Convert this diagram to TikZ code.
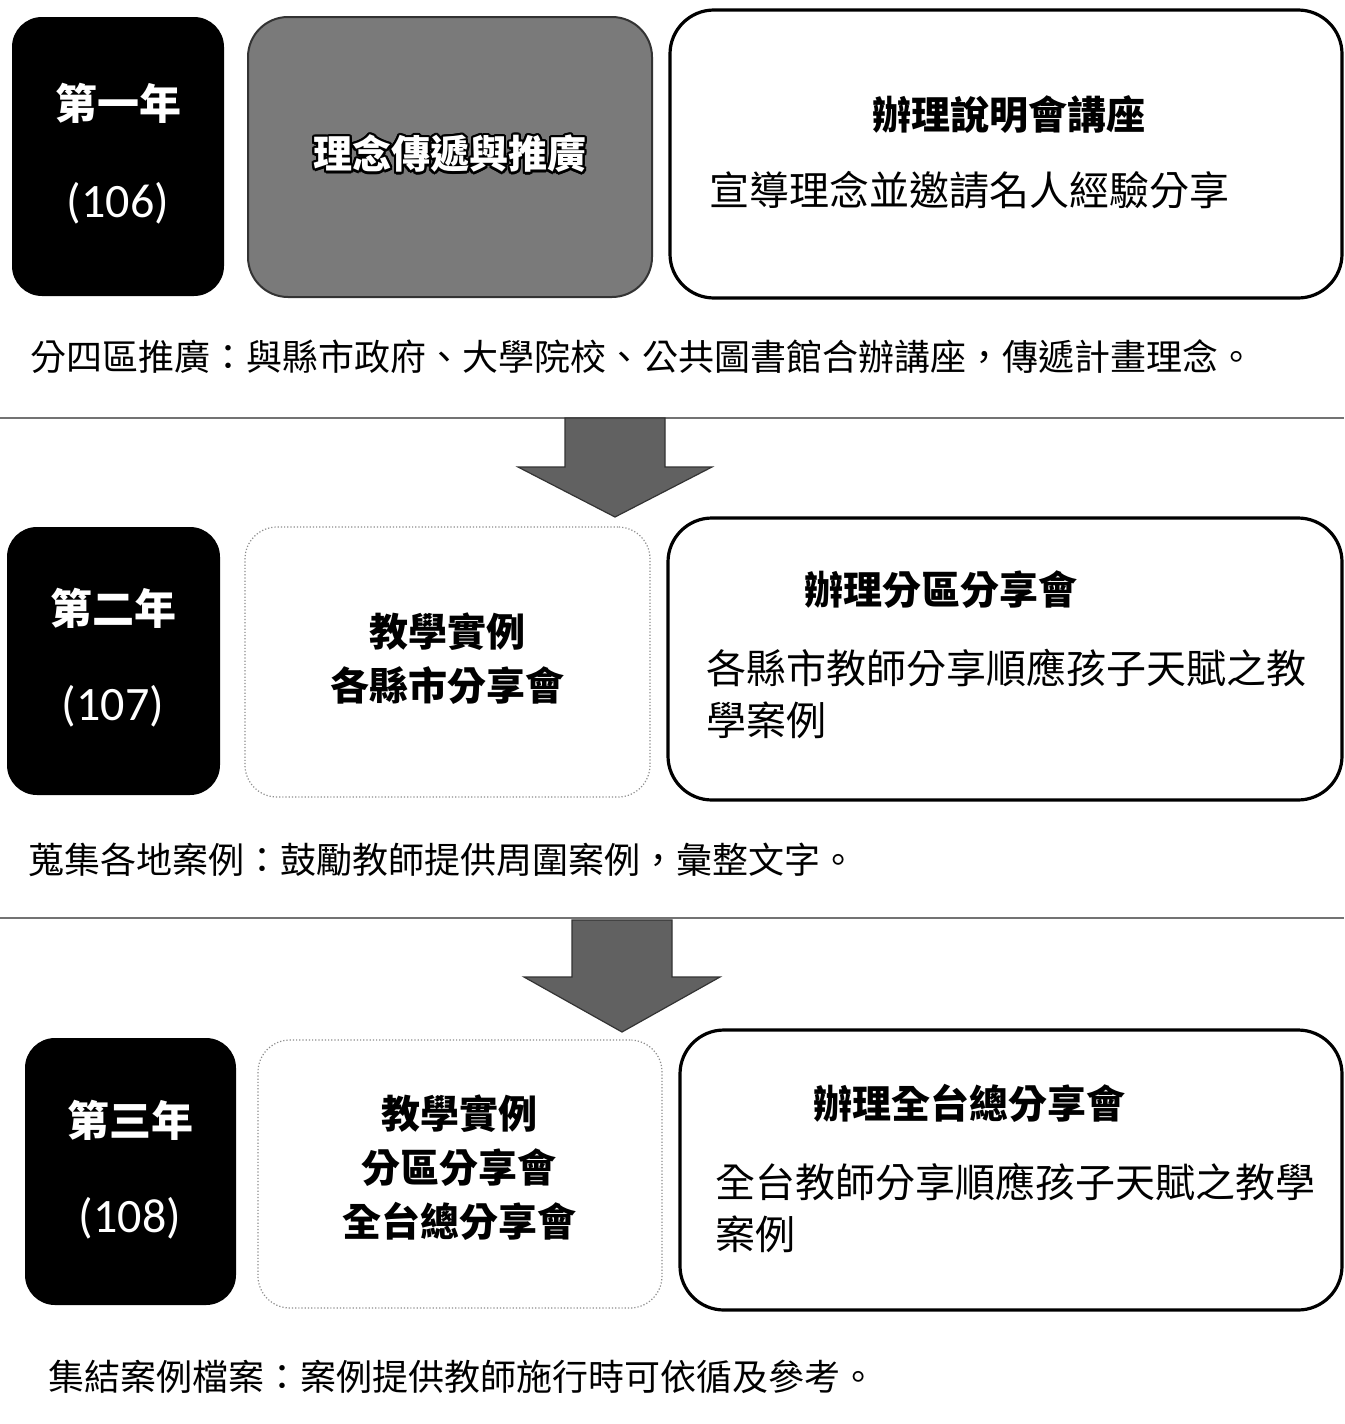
\documentclass[tikz,border=0pt]{standalone}
\usepackage{fontspec}
\newfontfamily\cjk{Noto Sans CJK TC}
\newfontfamily\numfont{Carlito}
\usepackage{contour}
\contourlength{1.1pt}
\begin{document}
\begin{tikzpicture}[x=0.5pt,y=-0.5pt,
  yearbox/.style={fill=black, rounded corners=15pt, inner sep=0pt},
  midbox/.style={draw=black!45, densely dotted, line width=0.6pt, rounded corners=16pt, inner sep=0pt},
  infobox/.style={draw=black, line width=1.6pt, rounded corners=22pt, inner sep=0pt},
  gbox/.style={fill=black!52, draw=black!80, line width=1pt, rounded corners=20pt, inner sep=0pt},
  yeartxt/.style={text=white, font=\cjk\bfseries\fontsize{21pt}{25pt}\selectfont},
  yearnum/.style={text=white, font=\numfont\fontsize{24pt}{28pt}\selectfont},
  head/.style={font=\cjk\bfseries\fontsize{19.5pt}{24pt}\selectfont},
  midtxt/.style={font=\cjk\bfseries\fontsize{19.5pt}{27pt}\selectfont, align=center},
  body/.style={font=\cjk\fontsize{20pt}{26pt}\selectfont, align=left, anchor=west, inner sep=0pt},
  note/.style={font=\cjk\fontsize{18pt}{22pt}\selectfont, anchor=west, inner sep=0pt},
  sep/.style={draw=black!55, line width=1.1pt},
  bigarrow/.style={fill=black!62, draw=black!80, line width=0.6pt}]
\useasboundingbox[fill=white] (0,0) rectangle (1344,1424);

% ---------- Row 1 ----------
\node[yearbox, minimum width=106pt, minimum height=139.5pt] (y1) at (118,156.5) {};
\node[yeartxt] (y1a) at (118,103) {\cjk 第一年};
\node[yearnum] (y1b) at (118,203) {(106)};
\node[gbox, minimum width=202pt, minimum height=140pt] (g1) at (450,157) {};
\node[text=white, font=\cjk\bfseries\fontsize{19.5pt}{24pt}\selectfont] (g1t) at (450,155) {\contour{black}{理念傳遞與推廣}};
\node[infobox, minimum width=336pt, minimum height=144pt] (r1) at (1006,154) {};
\node[head] (r1h) at (1009,115) {辦理說明會講座};
\node[body] (r1b) at (709,190) {宣導理念並邀請名人經驗分享};
\node[note] (n1) at (30,357) {分四區推廣：與縣市政府、大學院校、公共圖書館合辦講座，傳遞計畫理念。};

\coordinate (s1l) at (0,418);
\coordinate (s1r) at (1344,418);
\draw[sep] (s1l) -- (s1r);
\coordinate (a1) at (615,418);
\fill[bigarrow] (a1) ++(-50,0) -- ++(100,0) -- ++(0,49) -- ++(47,0) -- (615,517) -- (518,467) -- (565,467) -- cycle;

% ---------- Row 2 ----------
\node[yearbox, minimum width=106.5pt, minimum height=134pt] (y2) at (113.5,661) {};
\node[yeartxt] (y2a) at (113,608) {第二年};
\node[yearnum] (y2b) at (113,706) {(107)};
\node[midbox, minimum width=202.5pt, minimum height=135pt] (m2) at (447.5,662) {};
\node[midtxt] (m2t) at (447,659) {教學實例\\各縣市分享會};
\node[infobox, minimum width=337pt, minimum height=141pt] (r2) at (1005,659) {};
\node[head] (r2h) at (941,590) {辦理分區分享會};
\node[body] (r2b) at (706,694) {各縣市教師分享順應孩子天賦之教\\學案例};
\node[note] (n2) at (28,860) {蒐集各地案例：鼓勵教師提供周圍案例，彙整文字。};

\coordinate (s2l) at (0,918);
\coordinate (s2r) at (1344,918);
\draw[sep] (s2l) -- (s2r);
\coordinate (a2) at (622,920);
\fill[bigarrow] (a2) ++(-50,0) -- ++(100,0) -- ++(0,57) -- ++(48,0) -- (622,1032) -- (524,977) -- (572,977) -- cycle;

% ---------- Row 3 ----------
\node[yearbox, minimum width=105.5pt, minimum height=133.5pt] (y3) at (130.5,1171.5) {};
\node[yeartxt] (y3a) at (130,1120) {第三年};
\node[yearnum] (y3b) at (130,1218) {(108)};
\node[midbox, minimum width=202pt, minimum height=134pt] (m3) at (460,1174) {};
\node[midtxt] (m3t) at (459,1168) {教學實例\\分區分享會\\全台總分享會};
\node[infobox, minimum width=331pt, minimum height=140pt] (r3) at (1011,1170) {};
\node[head] (r3h) at (969,1103) {辦理全台總分享會};
\node[body] (r3b) at (715,1208) {全台教師分享順應孩子天賦之教學\\案例};
\node[note] (n3) at (48,1377) {集結案例檔案：案例提供教師施行時可依循及參考。};
\end{tikzpicture}
\end{document}
